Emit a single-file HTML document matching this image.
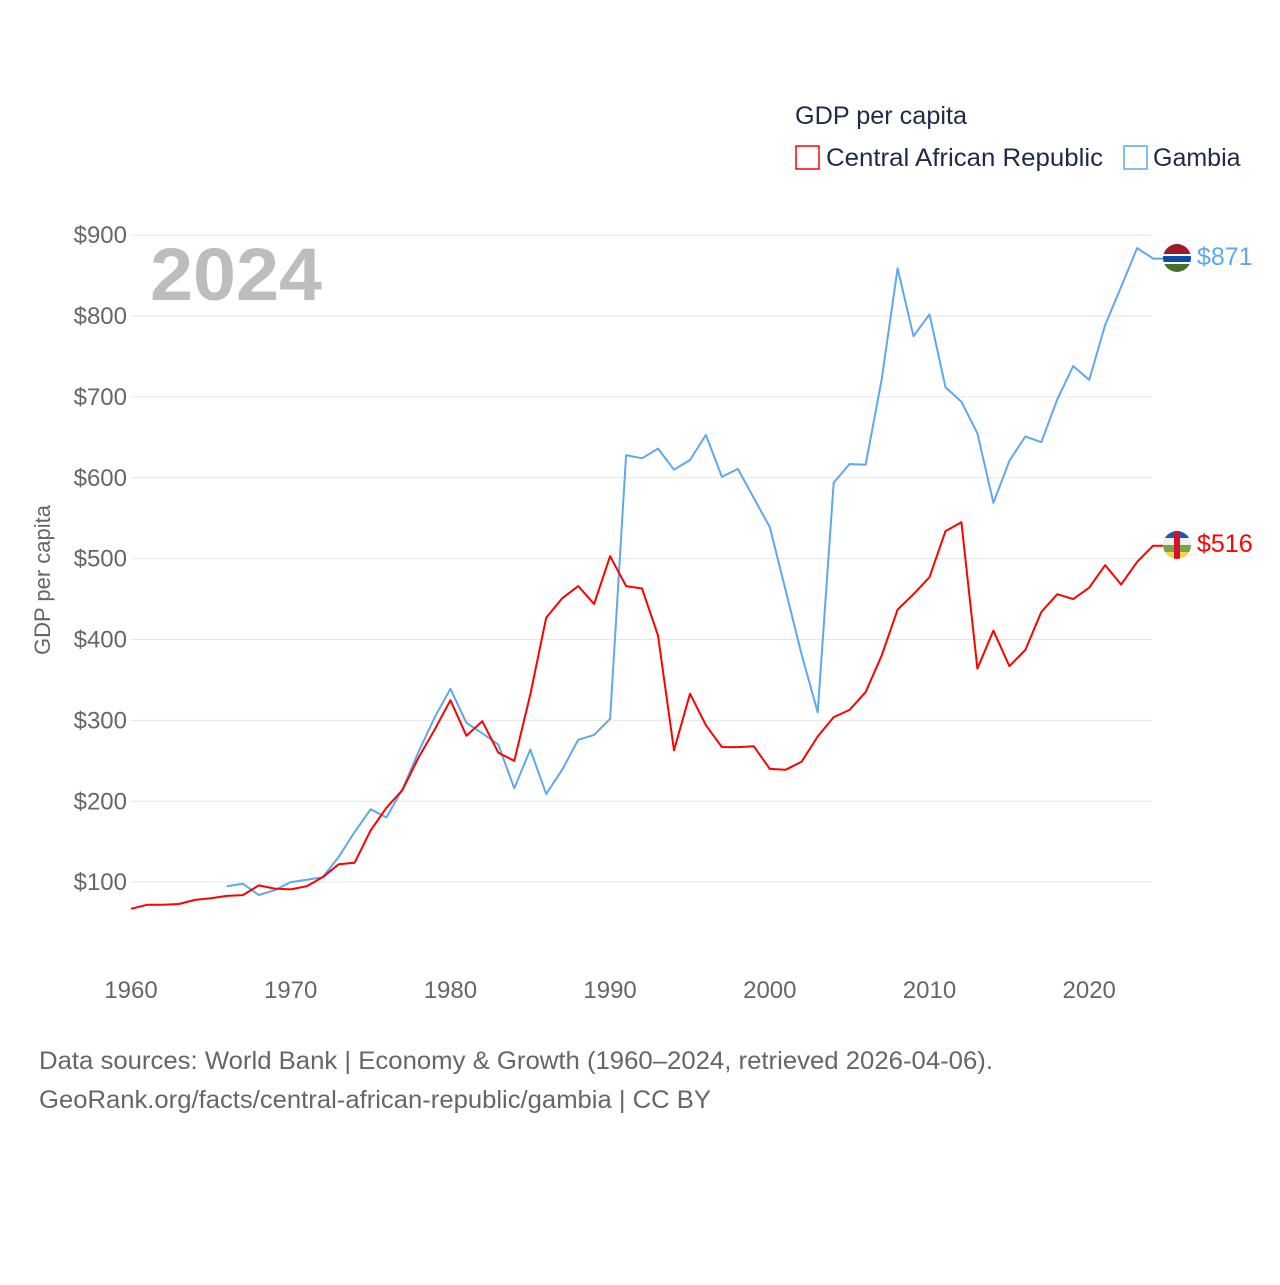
<!DOCTYPE html>
<html><head><meta charset="utf-8"><style>
body{margin:0;background:#fff;}
svg text{font-family:"Liberation Sans",sans-serif;}
</style></head><body>
<svg id="chart" width="1280" height="1280" viewBox="0 0 1280 1280" xmlns="http://www.w3.org/2000/svg">
<defs>
<clipPath id="cg"><circle cx="1177" cy="258" r="14"/></clipPath>
<clipPath id="cc"><circle cx="1177" cy="545" r="14"/></clipPath>
</defs>
<g id="grid"></g>
<g id="yticks"></g>
<g id="xticks"></g>
<text transform="translate(50,580) rotate(-90)" text-anchor="middle" font-size="22" fill="#666">GDP per capita</text>
<text x="150" y="300" font-size="74" font-weight="bold" fill="#bdbdbd" textLength="172" lengthAdjust="spacingAndGlyphs">2024</text>
<g id="series"></g>
<g>
<text x="795" y="124" font-size="25" fill="#1d2b44" textLength="172" lengthAdjust="spacingAndGlyphs">GDP per capita</text>
<rect x="796" y="146" width="23" height="23" fill="none" stroke="#ff0000" stroke-width="1.5"/>
<text x="826" y="166" font-size="25" fill="#1d2b44" textLength="277" lengthAdjust="spacingAndGlyphs">Central African Republic</text>
<rect x="1124" y="146" width="23" height="23" fill="none" stroke="#5ea8ef" stroke-width="1.5"/>
<text x="1153" y="166" font-size="25" fill="#1d2b44">Gambia</text>
</g>
<g clip-path="url(#cg)">
<rect x="1163" y="244" width="28" height="10" fill="#a1172b"/>
<rect x="1163" y="254" width="28" height="2" fill="#fff"/>
<rect x="1163" y="256" width="28" height="6" fill="#0d4ea6"/>
<rect x="1163" y="262" width="28" height="2" fill="#fff"/>
<rect x="1163" y="264" width="28" height="8" fill="#4a6e2e"/>
</g>
<g clip-path="url(#cc)">
<rect x="1163" y="531" width="28" height="7" fill="#1d58b0"/>
<rect x="1163" y="538" width="28" height="7" fill="#eee"/>
<rect x="1163" y="545" width="28" height="7" fill="#73a542"/>
<rect x="1163" y="552" width="28" height="7" fill="#f5d34c"/>
<rect x="1174" y="531" width="6" height="28" fill="#d3102e"/>
</g>
<text x="1197" y="265" font-size="25" fill="#5ea8ef">$871</text>
<text x="1197" y="552" font-size="25" fill="#ff0000">$516</text>
<text x="39" y="1069" font-size="25" fill="#666" textLength="954" lengthAdjust="spacingAndGlyphs">Data sources: World Bank | Economy &amp; Growth (1960–2024, retrieved 2026-04-06).</text>
<text x="39" y="1108" font-size="25" fill="#666" textLength="672" lengthAdjust="spacingAndGlyphs">GeoRank.org/facts/central-african-republic/gambia | CC BY</text>
</svg>
<script>
const yTickValues=[100,200,300,400,500,600,700,800,900];
const xTickYears=[1960,1970,1980,1990,2000,2010,2020];
const carStart=1960;
const carValues=[67,72,72,73,78,80,83,84,96,92,91,95,106,122,124,164,192,214,254,288,325,281,299,260,250,332,427,451,466,444,503,466,463,405,263,333,294,267,267,268,240,239,249,280,304,313,335,380,437,456,477,534,545,364,411,367,387,434,456,450,464,492,468,496,516];
const gambiaStart=1966;
const gambiaValues=[95,98,84,90,100,103,106,131,162,190,180,215,261,303,339,297,284,270,216,264,209,239,276,282,302,628,624,636,610,622,653,601,611,575,539,460,381,310,594,617,616,721,859,775,802,712,694,655,569,621,651,644,697,738,721,789,836,884,871];
const NS='http://www.w3.org/2000/svg';
function xs(yr){return 131+(yr-1960)*15.97;}
function ys(v){return 963-v*0.80875;}
const grid=document.getElementById('grid'),yt=document.getElementById('yticks'),xt=document.getElementById('xticks'),ser=document.getElementById('series');
yTickValues.forEach(v=>{
 const l=document.createElementNS(NS,'line');
 
 
 l.setAttribute('x1',131);l.setAttribute('x2',1152);l.setAttribute('y1',ys(v));l.setAttribute('y2',ys(v));
 l.setAttribute('stroke','#e6e6e6');l.setAttribute('stroke-width','1');grid.appendChild(l);
 const t=document.createElementNS(NS,'text');
 
 
 t.setAttribute('x',127);t.setAttribute('y',ys(v)+8);t.setAttribute('text-anchor','end');
 t.setAttribute('font-size','24');t.setAttribute('fill','#666');t.textContent='$'+v;yt.appendChild(t);
});
xTickYears.forEach(yr=>{
 const t=document.createElementNS(NS,'text');
 
 
 t.setAttribute('x',xs(yr));t.setAttribute('y',998);t.setAttribute('text-anchor','middle');
 t.setAttribute('font-size','24');t.setAttribute('fill','#666');t.textContent=yr;xt.appendChild(t);
});
function line(vals,start,color,name){
 const p=document.createElementNS(NS,'polyline');
 
 
 p.setAttribute('points',vals.map((v,i)=>xs(start+i).toFixed(1)+','+ys(v).toFixed(1)).join(' ')+' '+(xs(start+vals.length-1)+10).toFixed(1)+','+ys(vals[vals.length-1]).toFixed(1));
 p.setAttribute('fill','none');p.setAttribute('stroke',color);p.setAttribute('stroke-width','2');p.setAttribute('stroke-linejoin','round');
 ser.appendChild(p);
}
line(gambiaValues,gambiaStart,'#5ea8ef','gambia-line');
line(carValues,carStart,'#ff0000','car-line');
</script>
</body></html>
